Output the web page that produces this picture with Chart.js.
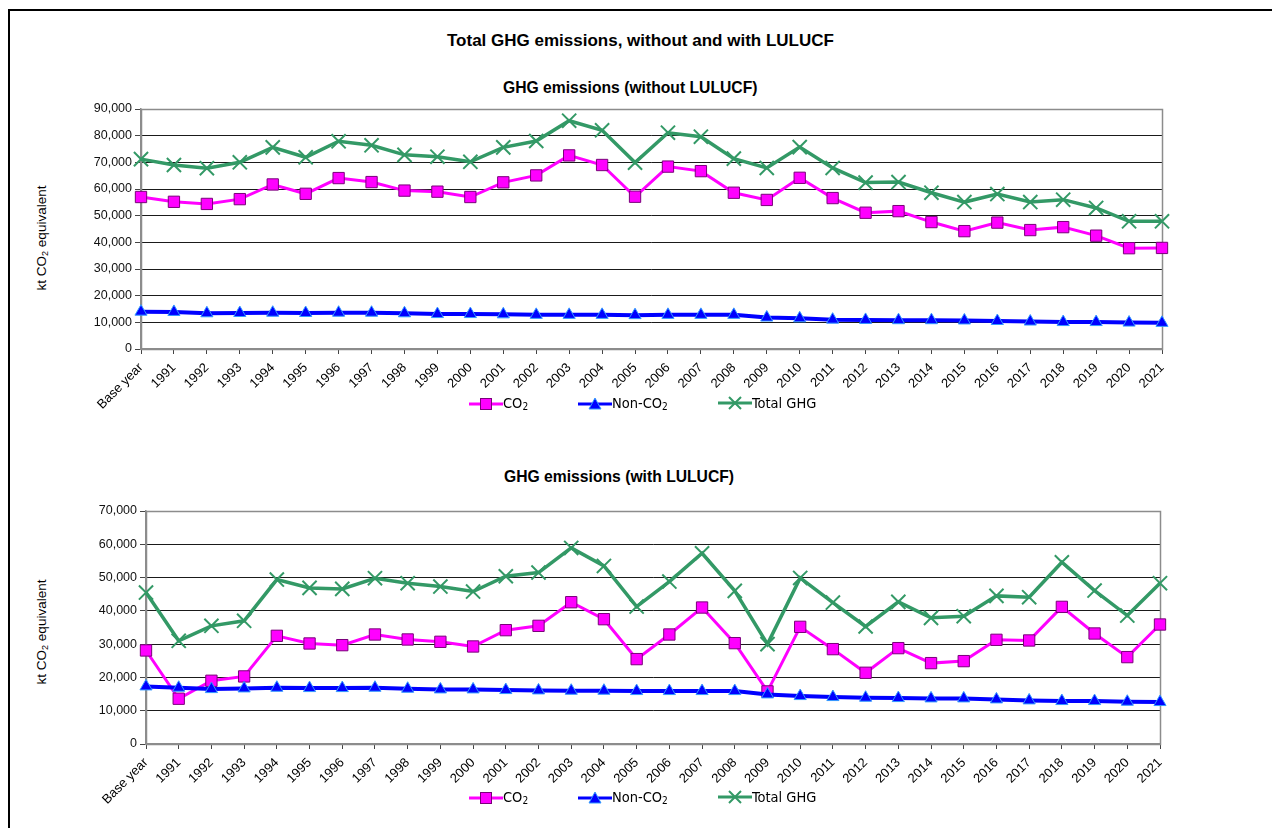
<!DOCTYPE html>
<html>
<head>
<meta charset="utf-8">
<title>Total GHG emissions, without and with LULUCF</title>
<script src="https://cdn.jsdelivr.net/npm/chart.js@4.4.0/dist/chart.umd.min.js"></script>
<style>
    html, body { margin: 0; padding: 0; background: #fff; width: 1272px; height: 828px; overflow: hidden; }
    body { position: relative; font-family: "Liberation Sans", Arial, sans-serif; color: #000; }
    .frame { position: absolute; left: 8px; top: 9px; width: 1300px; height: 900px; border: 2px solid #000; }
    .title { position: absolute; font-weight: bold; white-space: nowrap; }
    .ytitle { position: absolute; font-size: 13.5px; white-space: nowrap; transform: translate(-50%, -50%) rotate(-90deg); }
    .ytitle sub { font-size: 9px; vertical-align: -2px; }
    .box { position: absolute; left: 0; width: 1272px; }
    .legend { position: absolute; height: 16px; font-family: "Liberation Sans Narrow", "DejaVu Sans Condensed", Arial, sans-serif; font-size: 14.5px; }
    .legend span.item { position: absolute; top: 0; white-space: nowrap; display: flex; align-items: center; }
    .legend canvas { display: block; }
</style>
</head>
<body>
<div class="frame"></div>

<div class="title" style="left:447px; top:31px; font-size:17px;">Total GHG emissions, without and with LULUCF</div>
<div class="title" style="left:503px; top:79px; font-size:15.7px;">GHG emissions (without LULUCF)</div>
<div class="title" style="left:504px; top:468px; font-size:15.7px;">GHG emissions (with LULUCF)</div>

<div class="ytitle" style="left:42px; top:238px;">kt CO<sub>2</sub> equivalent</div>
<div class="ytitle" style="left:42px; top:632px;">kt CO<sub>2</sub> equivalent</div>

<div class="box" style="top:95px; height:330px;"><canvas id="chartWithout"></canvas></div>
<div class="box" style="top:495px; height:333px;"><canvas id="chartWith"></canvas></div>

<div class="legend" id="legendTop" style="left:0; top:395px;"></div>
<div class="legend" id="legendBottom" style="left:0; top:789px;"></div>

<script>
// ======================================================
// Data (kt CO2 equivalent)
// ======================================================
const years = ['Base year', '1991', '1992', '1993', '1994', '1995', '1996', '1997', '1998', '1999',
    '2000', '2001', '2002', '2003', '2004', '2005', '2006', '2007', '2008', '2009', '2010',
    '2011', '2012', '2013', '2014', '2015', '2016', '2017', '2018', '2019', '2020', '2021'];

// without LULUCF
const co2Without = [57000, 55200, 54400, 56200, 61700, 58200, 64100, 62600, 59400, 59000,
    57000, 62500, 65100, 72600, 69000, 57100, 68400, 66700, 58600, 55900, 64200,
    56600, 51100, 51700, 47600, 44200, 47400, 44600, 45700, 42500, 37800, 37900];
const nonCo2Without = [14000, 13900, 13400, 13500, 13600, 13500, 13600, 13600, 13400, 13100,
    13100, 13000, 12800, 12800, 12800, 12700, 12800, 12800, 12800, 11800, 11500,
    11000, 10900, 10800, 10800, 10700, 10500, 10300, 10100, 10100, 9900, 9800];
const totalWithout = [71200, 69000, 67800, 70000, 75600, 71900, 77900, 76400, 72800, 72100,
    70200, 75600, 78000, 85600, 82000, 69900, 81100, 79600, 71400, 67900, 75700,
    67900, 62400, 62600, 58600, 55100, 58100, 55100, 56000, 52900, 47900, 47900];

// with LULUCF
const co2With = [28100, 13600, 19000, 20300, 32500, 30200, 29700, 32900, 31400, 30700,
    29300, 34200, 35500, 42600, 37500, 25500, 32900, 41000, 30300, 15800, 35200,
    28500, 21400, 28800, 24300, 24900, 31300, 31100, 41200, 33200, 26100, 35900];
const nonCo2With = [17300, 16900, 16500, 16700, 16900, 16800, 16800, 16900, 16600, 16400,
    16400, 16200, 16100, 16000, 16000, 15900, 15900, 15900, 15900, 14900, 14400,
    14100, 13900, 13800, 13700, 13700, 13400, 13100, 12900, 12900, 12700, 12600];
const totalWith = [45500, 31000, 35500, 37000, 49400, 46900, 46600, 49800, 48300, 47300,
    45800, 50400, 51500, 58900, 53500, 41300, 48800, 57300, 46000, 30000, 49900,
    42500, 35300, 42700, 37900, 38400, 44500, 44100, 54600, 46100, 38600, 48300];

const seriesNames = ['CO\u2082', 'Non-CO\u2082', 'Total GHG'];

// ======================================================
// Styles
// ======================================================
const CO2_COLOR = '#ff00ff';
const CO2_EDGE = '#7a007a';
const NON_COLOR = '#0000ff';
const NON_EDGE = '#3399ff';
const TOT_COLOR = '#339966';

function fmt(v) {
    return v.toString().replace(/\B(?=(\d{3})+(?!\d))/g, ',');
}

// gray frame around plot area (drawn over grid lines, under data)
const plotFrame = {
    id: 'plotFrame',
    beforeDatasetsDraw(chart) {
        const a = chart.chartArea;
        const ctx = chart.ctx;
        ctx.save();
        ctx.strokeStyle = '#8c8c8c';
        ctx.lineWidth = 1.5;
        ctx.strokeRect(Math.round(a.left) + 0.5, Math.round(a.top) + 0.5,
            Math.round(a.right - a.left), Math.round(a.bottom - a.top));
        ctx.restore();
    }
};

function makeChart(id, co2, non, tot, yMax, cfg) {
    const ctx = document.getElementById(id).getContext('2d');
    return new Chart(ctx, {
        type: 'line',
        data: {
            labels: years,
            datasets: [
                {
                    label: seriesNames[0], data: co2, order: 3,
                    borderColor: CO2_COLOR, borderWidth: 3,
                    pointStyle: 'rect', pointRadius: 8, pointBackgroundColor: CO2_COLOR,
                    pointBorderColor: CO2_EDGE, pointBorderWidth: 1
                },
                {
                    label: seriesNames[1], data: non, order: 2,
                    borderColor: NON_COLOR, borderWidth: 4,
                    pointStyle: 'triangle', pointRadius: 7, pointBackgroundColor: NON_COLOR,
                    pointBorderColor: NON_EDGE, pointBorderWidth: 1
                },
                {
                    label: seriesNames[2], data: tot, order: 1,
                    borderColor: TOT_COLOR, borderWidth: 3.5,
                    pointStyle: 'crossRot', pointRadius: 10, pointBackgroundColor: TOT_COLOR,
                    pointBorderColor: TOT_COLOR, pointBorderWidth: 2
                }
            ]
        },
        options: {
            responsive: true,
            maintainAspectRatio: false,
            animation: false,
            tension: 0,
            layout: { padding: { top: cfg.padTop, right: cfg.padRight, left: 0, bottom: 0 } },
            plugins: { legend: { display: false }, tooltip: { enabled: false } },
            scales: {
                x: {
                    offset: false,
                    afterFit: function (s) { s.height = cfg.xHeight; },
                    border: { color: '#8c8c8c', width: 1.5 },
                    grid: { drawOnChartArea: false, tickLength: 5, tickColor: '#444' },
                    ticks: {
                        autoSkip: false, minRotation: 45, maxRotation: 45, padding: 6,
                        color: '#000', font: { family: 'Liberation Sans', size: 13 }
                    }
                },
                y: {
                    min: 0, max: yMax,
                    afterFit: function (s) { s.width = cfg.yWidth; },
                    border: { color: '#8c8c8c', width: 1.5 },
                    grid: { color: '#1a1a1a', lineWidth: 1, tickLength: 6, tickColor: '#444' },
                    ticks: {
                        stepSize: 10000, padding: 3, color: '#111',
                        font: { family: 'Liberation Sans', size: 12.5 },
                        callback: function (v) { return fmt(v); }
                    }
                }
            }
        },
        plugins: [plotFrame]
    });
}

// ======================================================
// Legend (HTML, line + marker icons)
// ======================================================
function drawIcon(kind) {
    const c = document.createElement('canvas');
    c.width = 34; c.height = 16;
    const g = c.getContext('2d');
    const y = 8;
    g.lineWidth = 3;
    if (kind === 0) {
        g.strokeStyle = CO2_COLOR;
        g.beginPath(); g.moveTo(0, y); g.lineTo(34, y); g.stroke();
        g.fillStyle = CO2_COLOR; g.strokeStyle = CO2_EDGE; g.lineWidth = 1;
        g.fillRect(11.5, 2.5, 11, 11); g.strokeRect(11.5, 2.5, 11, 11);
    } else if (kind === 1) {
        g.strokeStyle = NON_COLOR;
        g.beginPath(); g.moveTo(0, y); g.lineTo(34, y); g.stroke();
        g.fillStyle = NON_COLOR; g.strokeStyle = NON_EDGE; g.lineWidth = 1;
        g.beginPath(); g.moveTo(17, 2); g.lineTo(23, 13); g.lineTo(11, 13); g.closePath();
        g.fill(); g.stroke();
    } else {
        g.strokeStyle = TOT_COLOR;
        g.beginPath(); g.moveTo(0, y); g.lineTo(34, y); g.stroke();
        g.lineWidth = 2;
        g.beginPath(); g.moveTo(11, 2); g.lineTo(23, 14); g.moveTo(23, 2); g.lineTo(11, 14); g.stroke();
    }
    return c;
}

function buildLegend(id) {
    const el = document.getElementById(id);
    const lefts = [469, 578, 718];
    const labels = ['CO<sub style="font-size:10px;vertical-align:-2px">2</sub>',
        'Non-CO<sub style="font-size:10px;vertical-align:-2px">2</sub>', 'Total GHG'];
    lefts.forEach(function (x, i) {
        const item = document.createElement('span');
        item.className = 'item';
        item.style.left = x + 'px';
        item.appendChild(drawIcon(i));
        const t = document.createElement('span');
        t.innerHTML = labels[i];
        item.appendChild(t);
        el.appendChild(item);
    });
}

// ======================================================
// Init
// ======================================================
makeChart('chartWithout', co2Without, nonCo2Without, totalWithout, 90000,
    { padTop: 14, padRight: 110, xHeight: 76, yWidth: 141 });
makeChart('chartWith', co2With, nonCo2With, totalWith, 70000,
    { padTop: 16, padRight: 112, xHeight: 84, yWidth: 146 });
buildLegend('legendTop');
buildLegend('legendBottom');
</script>
</body>
</html>
